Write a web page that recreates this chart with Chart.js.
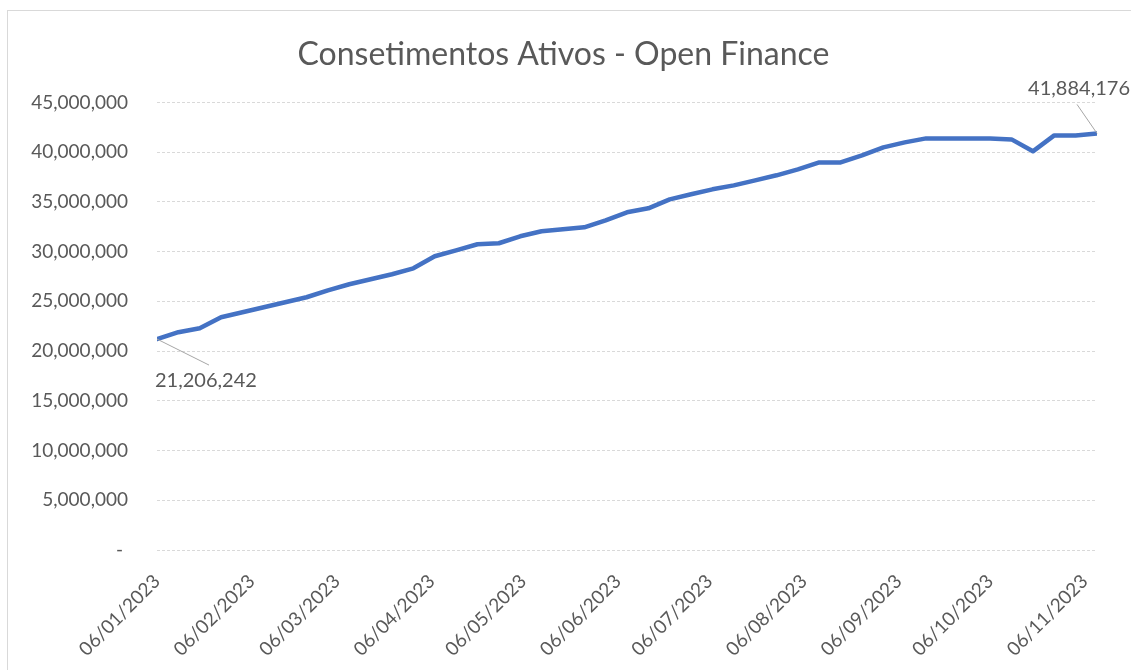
<!DOCTYPE html>
<html>
<head>
<meta charset="utf-8">
<script src="https://cdn.jsdelivr.net/npm/chart.js@4.4.1/dist/chart.umd.min.js"></script>
<style>
  html, body { margin: 0; padding: 0; background: #fff; overflow: hidden; }
  #wrap { position: relative; width: 1131px; height: 670px; }
  #frame { position: absolute; left: 7px; top: 10px; width: 1140px; height: 700px; border: 1px solid #d9d9d9; box-sizing: border-box; }
  #chart { position: absolute; left: 0; top: 0; }
</style>
</head>
<body>
<div id="wrap">
  <div id="frame"></div>
  <canvas id="chart" width="1131" height="670"></canvas>
</div>
<script>
// weekly dates (dd/mm/yyyy)
const dates = [
    '06/01/2023', '13/01/2023', '20/01/2023', '27/01/2023',
    '03/02/2023', '10/02/2023', '17/02/2023', '24/02/2023',
    '03/03/2023', '10/03/2023', '17/03/2023', '24/03/2023', '31/03/2023',
    '07/04/2023', '14/04/2023', '21/04/2023', '28/04/2023',
    '05/05/2023', '12/05/2023', '19/05/2023', '26/05/2023',
    '02/06/2023', '09/06/2023', '16/06/2023', '23/06/2023', '30/06/2023',
    '07/07/2023', '14/07/2023', '21/07/2023', '28/07/2023',
    '04/08/2023', '11/08/2023', '18/08/2023', '25/08/2023',
    '01/09/2023', '08/09/2023', '15/09/2023', '22/09/2023', '29/09/2023',
    '06/10/2023', '13/10/2023', '20/10/2023', '27/10/2023',
    '03/11/2023', '10/11/2023'
];

// active consents
const consents = [
    21206242, 21900000, 22300000, 23400000,
    23900000, 24410000, 24910000, 25410000,
    26110000, 26720000, 27220000, 27720000, 28320000,
    29530000, 30130000, 30740000, 30840000,
    31540000, 32040000, 32240000, 32440000,
    33150000, 33950000, 34350000, 35250000, 35760000,
    36260000, 36660000, 37160000, 37670000,
    38270000, 38970000, 38970000, 39670000,
    40480000, 40980000, 41380000, 41380000, 41380000,
    41380000, 41280000, 40080000, 41680000,
    41680000, 41884176
];

const tickLabels = [
    '06/01/2023', '06/02/2023', '06/03/2023', '06/04/2023', '06/05/2023', '06/06/2023',
    '06/07/2023', '06/08/2023', '06/09/2023', '06/10/2023', '06/11/2023'
];
const yTicks = [0, 5000000, 10000000, 15000000, 20000000, 25000000, 30000000, 35000000, 40000000, 45000000];

const FONT = 'Lato, "Open Sans", sans-serif';
const TXT = '#595959';

function dayOf(s) {
    const [d, m, y] = s.split('/').map(Number);
    return Date.UTC(y, m - 1, d) / 86400000;
}
const day0 = dayOf(dates[0]);
const points = dates.map((d, i) => ({ x: dayOf(d) - day0, y: consents[i] }));
const tickDays = tickLabels.map(l => dayOf(l) - day0);

const fmt = v => v.toLocaleString('en-US');

// first / last value labels with leader lines
const endLabels = {
    id: 'endLabels',
    afterDatasetsDraw(chart) {
        const meta = chart.getDatasetMeta(0);
        const ctx = chart.ctx;
        const first = meta.data[0], last = meta.data[meta.data.length - 1];
        ctx.save();
        ctx.strokeStyle = '#a6a6a6';
        ctx.lineWidth = 1;
        ctx.beginPath();
        ctx.moveTo(first.x, first.y);
        ctx.lineTo(first.x + 52, first.y + 26);
        ctx.moveTo(last.x, last.y);
        ctx.lineTo(last.x - 20, last.y - 29);
        ctx.stroke();
        ctx.fillStyle = TXT;
        ctx.font = '20px ' + FONT;
        ctx.textBaseline = 'middle';
        ctx.textAlign = 'left';
        ctx.fillText(fmt(consents[0]), first.x - 2, first.y + 41);
        ctx.textAlign = 'right';
        ctx.fillText(fmt(consents[consents.length - 1]), last.x + 33, last.y - 45);
        ctx.restore();
    }
};

new Chart(document.getElementById('chart'), {
    type: 'line',
    data: {
        datasets: [{
            data: points,
            borderColor: '#4472c4',
            borderWidth: 4.5,
            pointRadius: 0,
            tension: 0,
            borderJoinStyle: 'round',
            borderCapStyle: 'round'
        }]
    },
    options: {
        responsive: false,
        animation: false,
        layout: { padding: { left: 30, right: 34, top: 20, bottom: 0 } },
        plugins: {
            legend: { display: false },
            tooltip: { enabled: false },
            title: {
                display: true,
                text: 'Consetimentos Ativos - Open Finance',
                color: TXT,
                font: { family: FONT, size: 32, weight: 'normal' },
                padding: { top: 15, bottom: 29 }
            }
        },
        scales: {
            x: {
                type: 'linear',
                min: 0,
                max: points[points.length - 1].x,
                afterBuildTicks: s => { s.ticks = tickDays.map(v => ({ value: v })); },
                afterFit: s => { s.height = 120; },
                grid: { display: false },
                border: { display: false },
                ticks: {
                    autoSkip: false,
                    minRotation: 45,
                    maxRotation: 45,
                    padding: 12,
                    color: TXT,
                    font: { family: FONT, size: 19 },
                    callback: v => tickLabels[tickDays.indexOf(v)]
                }
            },
            y: {
                min: 0,
                max: 45000000,
                afterBuildTicks: s => { s.ticks = yTicks.map(v => ({ value: v })); },
                afterFit: s => { s.width = 127; },
                grid: { color: '#d9d9d9', lineWidth: 1, drawTicks: false },
                border: { display: false, dash: [3, 2] },
                ticks: {
                    padding: 29,
                    color: TXT,
                    font: { family: FONT, size: 19 },
                    callback: v => v === 0 ? '- ' : fmt(v)
                }
            }
        }
    },
    plugins: [endLabels]
});
</script>
</body>
</html>
